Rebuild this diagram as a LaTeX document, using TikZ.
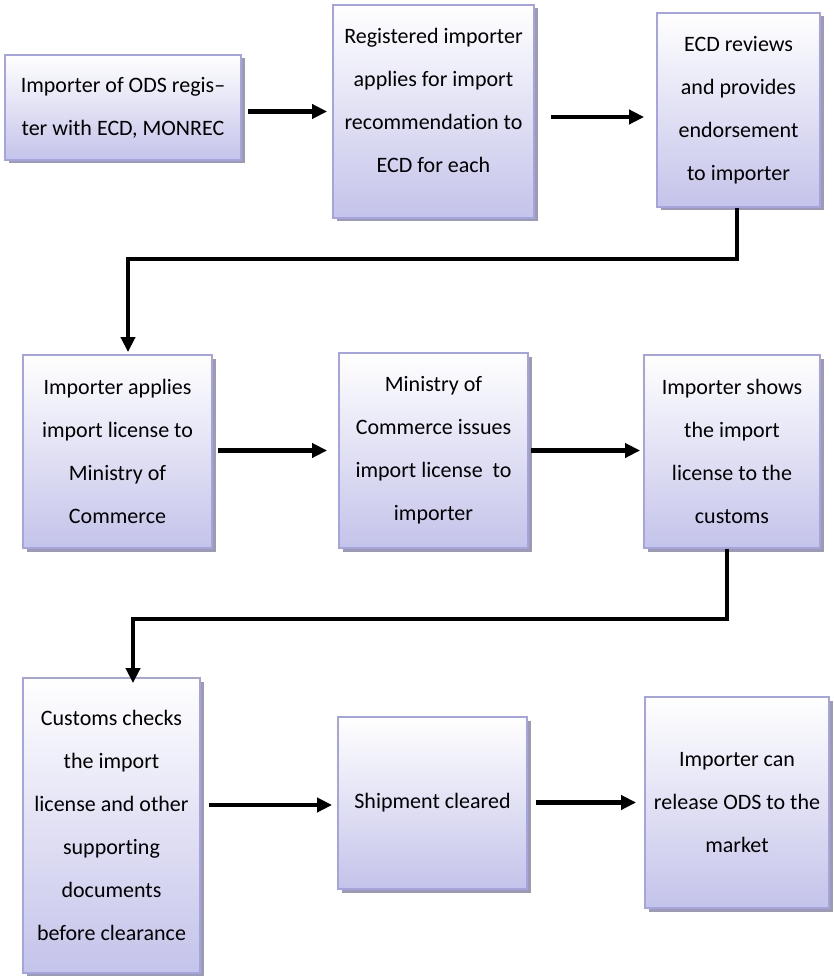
\documentclass[tikz,border=0pt]{standalone}
\usepackage{fontspec}
\setmainfont[Ligatures=NoCommon]{Carlito}
\usetikzlibrary{arrows.meta,calc,positioning,shadows}
\definecolor{boxline}{HTML}{A4A4E0}
\definecolor{boxbot}{HTML}{C4C3EA}
\definecolor{boxshade}{HTML}{9C9BB3}

\begin{document}
\begin{tikzpicture}[x=1pt,y=-1pt,>={Triangle[length=15pt,width=14pt]},
  every node/.style={font=\fontsize{22}{43}\selectfont},
  stepbox/.style={draw=boxline,line width=1.8pt,top color=white,bottom color=boxbot,
    drop shadow={shadow xshift=3.5pt,shadow yshift=-3.5pt,fill=boxshade,opacity=1},
    align=center,inner sep=0pt},
  flow/.style={->,line width=4.5pt}]
\useasboundingbox (0,0) rectangle (834,976);
% first row
\node[stepbox,minimum width=236pt,minimum height=105pt] (reg) at (123,107.5) {Importer of ODS regis–\\ter with ECD, MONREC};
\node[stepbox,minimum width=201pt,minimum height=213pt] (apply) at (433.5,111.5) {Registered importer\\applies for import\\recommendation to\\ECD for each\\[-20pt]\mbox{}};
\node[stepbox,minimum width=163pt,minimum height=194pt] (review) at (738.5,110) {ECD reviews\\and provides\\endorsement\\to importer};
% second row
\node[stepbox,minimum width=189pt,minimum height=193pt] (license) at (117.5,451.5) {Importer applies\\import license to\\Ministry of\\Commerce};
\node[stepbox,minimum width=189pt,minimum height=195pt] (issue) at (433.5,450.5) {Ministry of\\Commerce issues\\import license~~to\\importer};
\node[stepbox,minimum width=176pt,minimum height=193pt] (show) at (732,451.5) {Importer shows\\the import\\license to the\\customs};
% third row
\node[stepbox,minimum width=177pt,minimum height=295pt] (check) at (111.5,825.5) {Customs checks\\the import\\license and other\\supporting\\documents\\before clearance};
\node[stepbox,minimum width=189pt,minimum height=172pt] (clear) at (432.5,803) {Shipment cleared};
\node[stepbox,minimum width=184pt,minimum height=211pt] (release) at (737,802.5) {Importer can\\release ODS to the\\market};

\draw[flow,shorten <=6pt,shorten >=5pt] (reg.east |- apply.west) -- (apply.west);
\draw[flow,shorten <=16pt,shorten >=12pt] ([yshift=-5.5pt]apply.east) -- ([yshift=-5.5pt]apply.east -| review.west);
\draw[flow,shorten >=2pt] ([xshift=-1.5pt]review.south) -- ++(0,51) -| ([xshift=10.5pt]license.north);
\draw[flow,shorten <=5pt,shorten >=11pt] (license.east |- issue.west) -- (issue.west);
\draw[flow,shorten <=2pt,shorten >=3pt] (issue.east) -- (issue.east -| show.west);
\draw[flow,shorten >=-6pt] ([xshift=-5pt]show.south) -- ++(0,70) -| ([xshift=21.5pt]check.north);
\draw[flow,shorten <=8pt,shorten >=5pt] ([yshift=-2pt]clear.west -| check.east) -- ([yshift=-2pt]clear.west);
\draw[flow,shorten <=8pt,shorten >=8pt] (clear.east |- release.west) -- (release.west);
\end{tikzpicture}
\end{document}
